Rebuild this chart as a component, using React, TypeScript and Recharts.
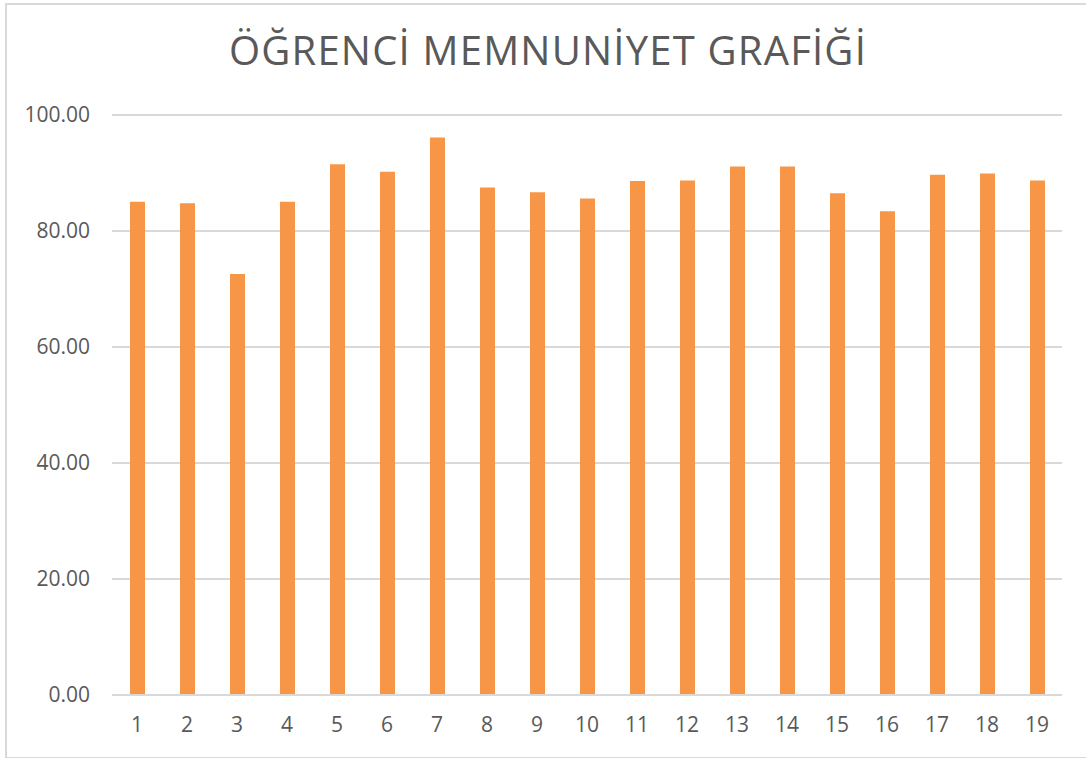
import { Bar, BarChart, CartesianGrid, XAxis, YAxis } from "recharts";

const ogrenciler = ["1", "2", "3", "4", "5", "6", "7", "8", "9", "10", "11", "12", "13", "14", "15", "16", "17", "18", "19"];
const memnuniyet = [85.05, 84.8, 72.6, 85.05, 91.5, 90.2, 96.1, 87.5, 86.7, 85.6, 88.6, 88.7, 91.1, 91.1, 86.5, 83.4, 89.7, 89.9, 88.7];
const yTicks = [0, 20, 40, 60, 80, 100];

const data = ogrenciler.map((ad, i) => ({ ad, puan: memnuniyet[i] }));

const FONT = "'Open Sans', 'Liberation Sans', sans-serif";
const TEXT = "#595959";
const GRID = "#d9d9d9";

export default function App() {
  return (
    <div
      style={{
        position: "absolute",
        left: 0,
        top: 0,
        width: 1086,
        height: 758,
        overflow: "hidden",
        background: "#fff",
        fontFamily: FONT,
      }}
    >
      <div
        style={{
          position: "absolute",
          left: 5,
          top: 3,
          width: 1100,
          height: 752,
          border: `2px solid ${GRID}`,
        }}
      />
      <div
        style={{
          position: "absolute",
          left: 0,
          top: 24,
          width: 1096,
          textAlign: "center",
          fontSize: 40,
          letterSpacing: 1.2,
          color: TEXT,
          lineHeight: "52px",
        }}
      >
        ÖĞRENCİ MEMNUNİYET GRAFİĞİ
      </div>
      <div style={{ position: "absolute", left: 0, top: 0 }}>
        <BarChart
          width={1086}
          height={758}
          data={data}
          margin={{ top: 115, right: 24, left: 0, bottom: 33 }}
        >
          <CartesianGrid vertical={false} stroke={GRID} strokeWidth={2} />
          <XAxis
            dataKey="ad"
            height={30}
            tickSize={0}
            tickMargin={22}
            axisLine={{ stroke: GRID, strokeWidth: 2 }}
            tick={{ fill: TEXT, fontSize: 21, fontFamily: FONT }}
          />
          <YAxis
            width={112}
            domain={[0, 100]}
            ticks={yTicks}
            tickFormatter={(v: number) => v.toFixed(2)}
            tickSize={0}
            tickMargin={22}
            axisLine={false}
            tick={{ fill: TEXT, fontSize: 21, fontFamily: FONT }}
          />
          <Bar dataKey="puan" fill="#f79646" barSize={15} isAnimationActive={false} />
        </BarChart>
      </div>
    </div>
  );
}
